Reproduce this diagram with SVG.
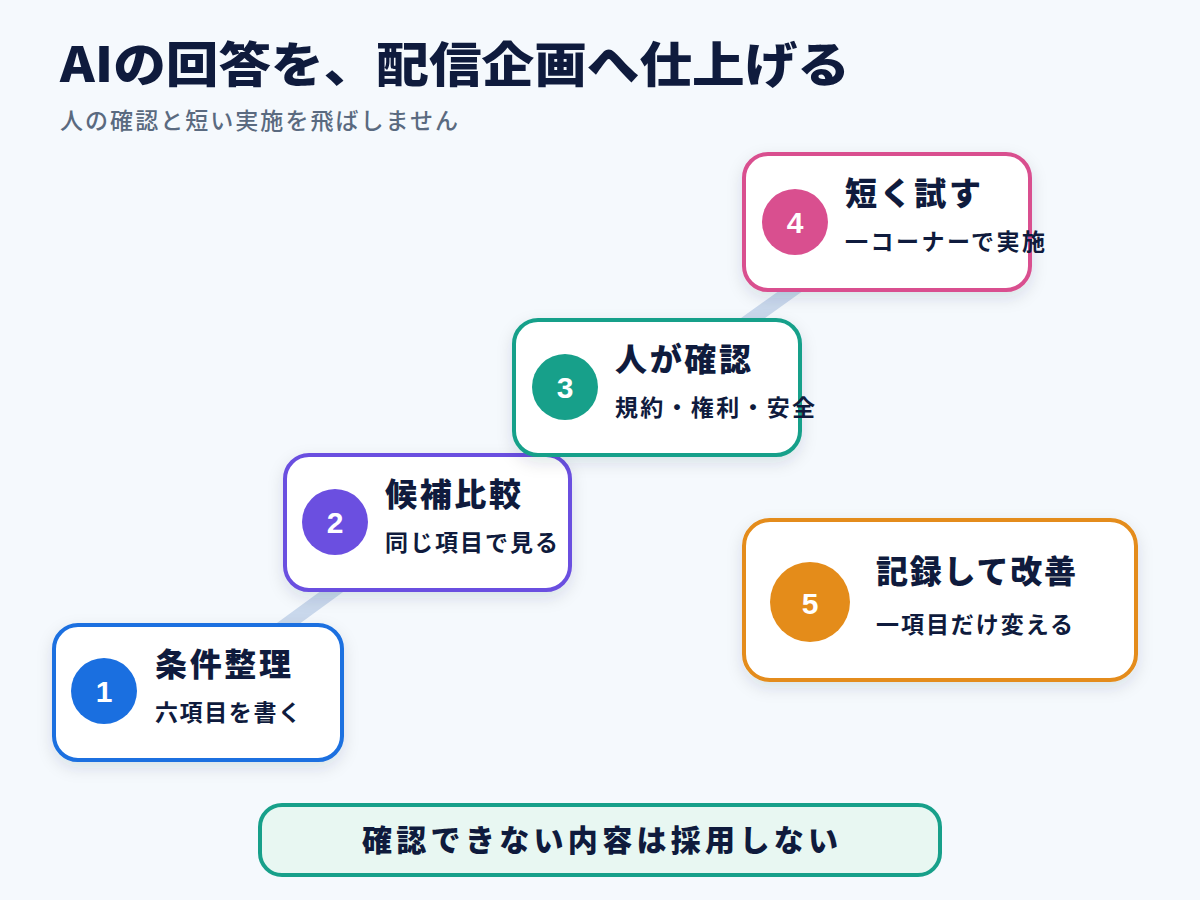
<svg xmlns="http://www.w3.org/2000/svg" width="1200" height="900" viewBox="0 0 1200 900">
<defs>
<filter id="sh" x="-20%" y="-20%" width="140%" height="150%"><feDropShadow dx="0" dy="6" stdDeviation="8" flood-color="#1a2a50" flood-opacity="0.12"/></filter>
<style>
text{font-family:"Noto Sans CJK JP","Noto Sans",sans-serif;fill:#0f1b3d}
.box{fill:#fff;stroke-width:4;filter:url(#sh)}
.t{font-size:32px;font-weight:900}
.s{font-size:23px;font-weight:700}
.n{font-family:"Liberation Sans",Arial,sans-serif;font-size:30px;font-weight:900;fill:#fff;text-anchor:middle}
</style>
</defs>
<rect width="1200" height="900" fill="#f5f9fd"/>
<text x="60" y="82" font-size="48" font-weight="900" textLength="790" lengthAdjust="spacingAndGlyphs">AIの回答を、配信企画へ仕上げる</text>
<text x="60" y="129" font-size="23" font-weight="500" style="fill:#5a6a80" textLength="398">人の確認と短い実施を飛ばしません</text>
<g id="connectors"><polyline points="197,690 427,522 657,387 887,222" fill="none" stroke="#c9d8ec" stroke-width="14" stroke-linecap="round"/></g>
<g id="node1"><rect class="box" x="54" y="625" width="288" height="135" rx="24" stroke="#1a6fe0"/><circle cx="104" cy="691" r="33" fill="#1a6fe0"/><text class="n" x="104" y="702">1</text><text class="t" x="155" y="676" textLength="136">条件整理</text><text class="s" x="155" y="721" textLength="146">六項目を書く</text></g>
<g id="node2"><rect class="box" x="285" y="455" width="285" height="135" rx="24" stroke="#6b4fe0"/><circle cx="335" cy="522" r="33" fill="#6b4fe0"/><text class="n" x="335" y="533">2</text><text class="t" x="385" y="506" textLength="136">候補比較</text><text class="s" x="385" y="551" textLength="173">同じ項目で見る</text></g>
<g id="node3"><rect class="box" x="514" y="320" width="286" height="135" rx="24" stroke="#17a08a"/><circle cx="565" cy="387" r="33" fill="#17a08a"/><text class="n" x="565" y="398">3</text><text class="t" x="615" y="371" textLength="136">人が確認</text><text class="s" x="615" y="416" textLength="200">規約・権利・安全</text></g>
<g id="node4"><rect class="box" x="744" y="154" width="286" height="136" rx="24" stroke="#d94f8f"/><circle cx="795" cy="222" r="33" fill="#d94f8f"/><text class="n" x="795" y="233">4</text><text class="t" x="845" y="205" textLength="136">短く試す</text><text class="s" x="845" y="250" textLength="200">一コーナーで実施</text></g>
<g id="node5"><rect class="box" x="744" y="520" width="392" height="160" rx="26" stroke="#e48c1a"/><circle cx="810" cy="602" r="40" fill="#e48c1a"/><text class="n" x="810" y="614" font-size="34">5</text><text class="t" x="876" y="583" textLength="200">記録して改善</text><text class="s" x="876" y="633" textLength="197">一項目だけ変える</text></g>
<g id="note"><rect x="260" y="805" width="680" height="70" rx="22" fill="#e8f7f2" stroke="#17a08a" stroke-width="4"/><text x="600" y="851" font-size="30" font-weight="900" text-anchor="middle" textLength="476">確認できない内容は採用しない</text></g>
</svg>
